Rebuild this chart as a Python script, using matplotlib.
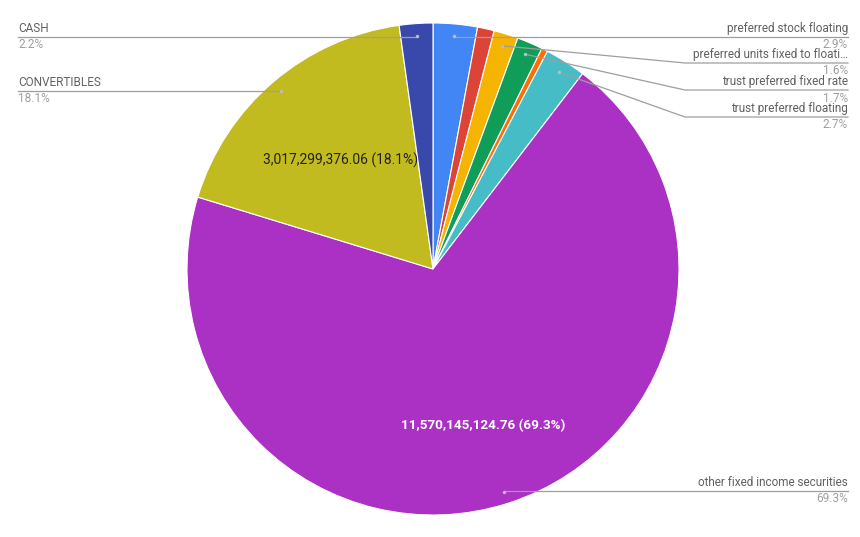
import numpy as np
import matplotlib
matplotlib.use("Agg")
import matplotlib.pyplot as plt

plt.rcParams["font.family"] = ["Roboto", "DejaVu Sans"]

# slices, clockwise from 12 o'clock
names = [
    "preferred stock floating",
    "preferred stock fixed",
    "preferred units fixed to floati\u2026",
    "trust preferred fixed rate",
    "trust preferred fixed to floating",
    "trust preferred floating",
    "other fixed income securities",
    "CONVERTIBLES",
    "CASH",
]
values = [
    484176000.00,
    183650000.00,
    267130000.00,
    283830000.00,
    66780000.00,
    450780000.00,
    11570145124.76,
    3017299376.06,
    367300000.00,
]
colors = ["#4285f4", "#db4437", "#f4b400", "#0f9d58", "#ff6d01",
          "#46bdc6", "#ab30c4", "#c1bb20", "#3949ab"]

# which slices get a callout: (index, side, label line y in px)
callouts = [(0, "right", 37), (2, "right", 63), (3, "right", 90),
            (5, "right", 117), (6, "right", 491), (7, "left", 91), (8, "left", 37)]
# slices with value text inside: (index, radius fraction, text colour)
inner = [(7, 0.58, "#222222"), (6, 0.67, "#ffffff")]

W, H = 860, 537
cx, cy, R = 433, H - 269, 246

fig = plt.figure(figsize=(W / 100, H / 100), dpi=100)
ax = fig.add_axes([0, 0, 1, 1])

wedges, _ = ax.pie(values, colors=colors, center=(cx, cy), radius=R,
                   startangle=90, counterclock=False,
                   wedgeprops=dict(edgecolor="white", linewidth=0.8))
ax.set_xlim(0, W)
ax.set_ylim(0, H)
ax.set_aspect("equal")
ax.axis("off")

total = sum(values)


def mid_point(i, frac):
    w = wedges[i]
    a = np.deg2rad((w.theta1 + w.theta2) / 2)
    return cx + frac * R * np.cos(a), cy + frac * R * np.sin(a)


line_c = "#9e9e9e"
for i, side, ly in callouts:
    px, py = mid_point(i, 0.95)
    y = H - ly
    pct = f"{values[i] / total * 100:.1f}%"
    if side == "left":
        ax.plot([18, px], [y, y], color=line_c, lw=0.9, zorder=3)
        tx, ha = 18, "left"
    else:
        if abs(py - y) < 3:
            ax.plot([px, 848], [y, y], color=line_c, lw=0.9, zorder=3)
        else:
            ax.plot([px, 685, 848], [py, y, y], color=line_c, lw=0.9, zorder=3)
        tx, ha = 848, "right"
    ax.plot(px, py, "o", ms=2.5, color="#bdbdbd", mec="none", zorder=4)
    ax.text(tx, y + 2, names[i], ha=ha, va="bottom", fontsize=8.5, color="#616161")
    ax.text(tx, y - 1.5, pct, ha=ha, va="top", fontsize=8.5, color="#9e9e9e")

for i, frac, col in inner:
    x, y = mid_point(i, frac)
    pct = values[i] / total * 100
    ax.text(x, y, f"{values[i]:,.2f} ({pct:.1f}%)", ha="center", va="center",
            fontsize=10 if col != "#ffffff" else 9.7, color=col,
            fontweight="bold" if col == "#ffffff" else "normal")

fig.savefig("out.png", dpi=100, facecolor="white")
